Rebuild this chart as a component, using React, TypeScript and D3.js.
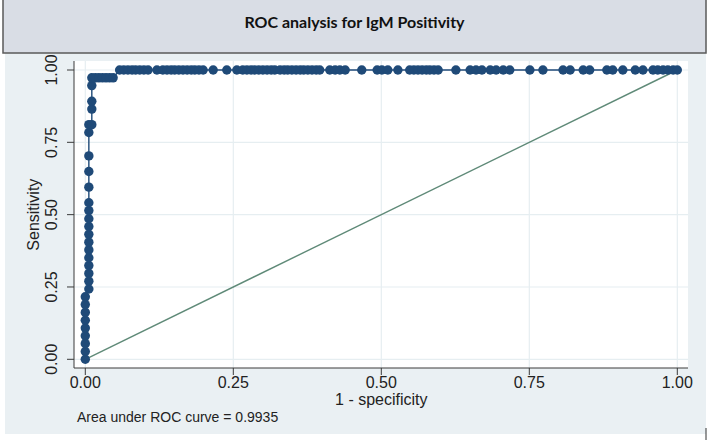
import * as d3 from "d3";

const title = "ROC analysis for IgM Positivity";
const xTicks = [0, 0.25, 0.5, 0.75, 1];
const yTicks = [0, 0.25, 0.5, 0.75, 1];
const aucLabel = "Area under ROC curve = 0.9935";

// ROC points in drawing order (1 - specificity, sensitivity)
const lowFpr = [0, 0, 0, 0, 0, 0, 0, 0, 0];
const lowSens = [0, 0.027, 0.054, 0.081, 0.108, 0.135, 0.162, 0.189, 0.216];
const midFpr = [0.006, 0.006, 0.006, 0.006, 0.006, 0.006, 0.006, 0.006, 0.006, 0.006, 0.006, 0.006, 0.006, 0.006, 0.006, 0.006, 0.006];
const midSens = [0.243, 0.27, 0.297, 0.324, 0.351, 0.378, 0.405, 0.432, 0.459, 0.486, 0.514, 0.541, 0.595, 0.649, 0.703, 0.784, 0.811];
const kneeFpr = [0.011, 0.011, 0.011, 0.011, 0.011, 0.017, 0.023, 0.029, 0.035, 0.041, 0.047];
const kneeSens = [0.811, 0.865, 0.892, 0.946, 0.973, 0.973, 0.973, 0.973, 0.973, 0.973, 0.973];
const topFpr = [
  0.058, 0.065, 0.072, 0.079, 0.085, 0.092, 0.099, 0.106, 0.121, 0.131, 0.138, 0.145, 0.151, 0.158,
  0.165, 0.172, 0.179, 0.185, 0.192, 0.199, 0.216, 0.239, 0.256, 0.266, 0.273, 0.28, 0.286, 0.293,
  0.3, 0.307, 0.314, 0.32, 0.329, 0.336, 0.342, 0.349, 0.356, 0.363, 0.369, 0.376, 0.383, 0.39,
  0.396, 0.413, 0.422, 0.43, 0.439, 0.467, 0.493, 0.501, 0.511, 0.528, 0.548, 0.555, 0.562, 0.569,
  0.576, 0.582, 0.589, 0.596, 0.626, 0.65, 0.66, 0.67, 0.684, 0.694, 0.706, 0.717, 0.751, 0.773,
  0.807, 0.819, 0.841, 0.852, 0.881, 0.891, 0.908, 0.929, 0.942, 0.959, 0.967, 0.976, 0.984, 0.993, 1,
];

const navy = "#1f4a78";

export default function App() {
  const W = 709;
  const H = 440;
  const plot = { left: 74, right: 688, top: 61, bottom: 368 };
  const x = d3.scaleLinear().domain([0, 1]).range([85.3, 677.3]);
  const y = d3.scaleLinear().domain([0, 1]).range([359.3, 70]);

  const pts: [number, number][] = [
    ...lowFpr.map((f, i) => [f, lowSens[i]] as [number, number]),
    ...midFpr.map((f, i) => [f, midSens[i]] as [number, number]),
    ...kneeFpr.map((f, i) => [f, kneeSens[i]] as [number, number]),
    ...topFpr.map((f) => [f, 1] as [number, number]),
  ];
  const line = d3
    .line<[number, number]>()
    .x((d) => x(d[0]))
    .y((d) => y(d[1]));

  const font = "'Liberation Sans', Arial, sans-serif";

  return (
    <svg width={W} height={H} style={{ position: "absolute", left: 0, top: 0 }} fontFamily={font}>
      <rect x={0} y={0} width={W} height={H} fill="#ffffff" />
      {/* graph background */}
      <rect x={5} y={50} width={701} height={384} fill="#eaf0f3" />
      {/* plot region */}
      <rect x={plot.left} y={plot.top} width={plot.right - plot.left} height={plot.bottom - plot.top} fill="#ffffff" />

      {/* grid */}
      {xTicks.map((t) => (
        <line key={"gx" + t} x1={x(t)} x2={x(t)} y1={plot.top} y2={plot.bottom} stroke="#e6eef1" strokeWidth={1.2} />
      ))}
      {yTicks.map((t) => (
        <line key={"gy" + t} x1={plot.left} x2={plot.right} y1={y(t)} y2={y(t)} stroke="#e6eef1" strokeWidth={1.2} />
      ))}

      {/* axes */}
      <line x1={plot.left} x2={plot.left} y1={plot.top} y2={plot.bottom} stroke="#3a3a3a" strokeWidth={1} />
      <line x1={plot.left} x2={plot.right} y1={plot.bottom} y2={plot.bottom} stroke="#3a3a3a" strokeWidth={1} />
      {yTicks.map((t) => (
        <g key={"ty" + t}>
          <line x1={plot.left - 7} x2={plot.left} y1={y(t)} y2={y(t)} stroke="#3a3a3a" strokeWidth={1} />
          <text
            transform={`translate(57,${y(t)}) rotate(-90)`}
            textAnchor="middle"
            fontSize={16}
            fill="#222"
          >
            {d3.format(".2f")(t)}
          </text>
        </g>
      ))}
      {xTicks.map((t) => (
        <g key={"tx" + t}>
          <line x1={x(t)} x2={x(t)} y1={plot.bottom} y2={plot.bottom + 7} stroke="#3a3a3a" strokeWidth={1} />
          <text x={x(t)} y={388} textAnchor="middle" fontSize={16} fill="#222">
            {d3.format(".2f")(t)}
          </text>
        </g>
      ))}
      <text x={(x(0) + x(1)) / 2} y={404.5} textAnchor="middle" fontSize={16} fill="#222">
        1 - specificity
      </text>
      <text transform={`translate(39,${(y(0) + y(1)) / 2}) rotate(-90)`} textAnchor="middle" fontSize={16} fill="#222">
        Sensitivity
      </text>
      <text x={77} y={422} fontSize={14} fill="#222">
        {aucLabel}
      </text>

      {/* reference diagonal */}
      <line x1={x(0)} y1={y(0)} x2={x(1)} y2={y(1)} stroke="#5f8a78" strokeWidth={1.4} />

      {/* ROC curve */}
      <path d={line(pts) ?? ""} fill="none" stroke={navy} strokeWidth={1.4} />
      {pts.map((d, i) => (
        <circle key={i} cx={x(d[0])} cy={y(d[1])} r={4.7} fill={navy} />
      ))}

      {/* title box */}
      <rect x={3} y={-2} width={703} height={55} fill="#d9dde5" stroke="#5a5a5a" strokeWidth={1.5} />
      <text x={354.5} y={28} textAnchor="middle" fontSize={16} fontWeight={700} fontFamily="Lato, 'Open Sans', sans-serif" fill="#111">
        {title}
      </text>
      <line x1={706} x2={706} y1={428} y2={440} stroke="#333" strokeWidth={1} />
    </svg>
  );
}
